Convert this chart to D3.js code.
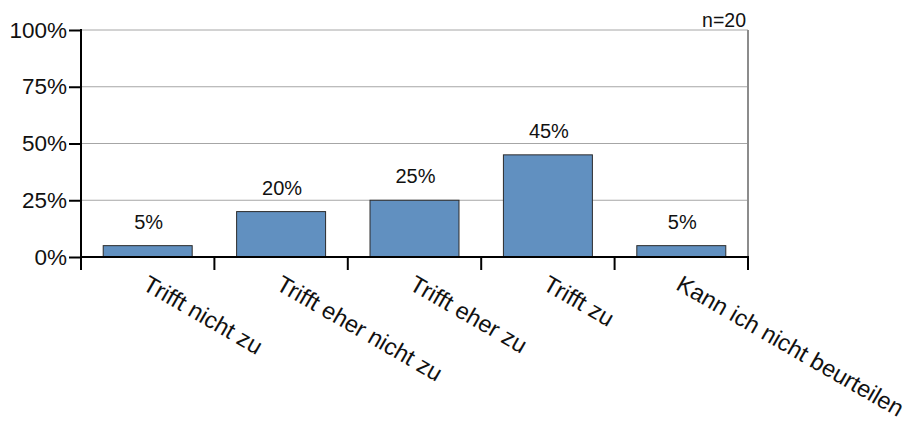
<!DOCTYPE html>
<html>
<head>
<meta charset="utf-8">
<script src="https://cdn.jsdelivr.net/npm/d3@7"></script>
<style>
  html, body { margin: 0; padding: 0; background: #fff; }
  svg { display: block; font-family: "Liberation Sans", Arial, sans-serif; }
</style>
</head>
<body>
<svg id="chart" width="910" height="423"></svg>
<script>
// Answer categories and their shares (percent of respondents)
const categories = ["Trifft nicht zu", "Trifft eher nicht zu", "Trifft eher zu", "Trifft zu", "Kann ich nicht beurteilen"];
const values = [5, 20, 25, 45, 5];
const yTicks = [0, 25, 50, 75, 100];
const sampleLabel = "n=20";

const svg = d3.select("#chart");
const plotLeft = 81, plotRight = 748, plotTop = 30, plotBottom = 257;

const x = d3.scaleBand().domain(categories).range([plotLeft, plotRight]).padding(0);
const y = d3.scaleLinear().domain([0, 100]).range([plotBottom, plotTop]);
const barW = x.bandwidth() * 0.667;

// light horizontal gridlines
svg.append("g").selectAll("line")
  .data(yTicks.filter(d => d > 0))
  .join("line")
  .attr("x1", plotLeft).attr("x2", plotRight)
  .attr("y1", d => y(d)).attr("y2", d => y(d))
  .attr("stroke", "#a6a6a6").attr("stroke-width", 1);

// right frame edge
svg.append("line")
  .attr("x1", plotRight).attr("x2", plotRight)
  .attr("y1", y(100)).attr("y2", y(0))
  .attr("stroke", "#8c8c8c").attr("stroke-width", 2);

// bars
svg.append("g").selectAll("rect")
  .data(values)
  .join("rect")
  .attr("x", (d, i) => x(categories[i]) + (x.bandwidth() - barW) / 2)
  .attr("y", d => y(d))
  .attr("width", barW)
  .attr("height", d => y(0) - y(d))
  .attr("fill", "#6190c0")
  .attr("stroke", "#2b2b2b")
  .attr("stroke-width", 1);

// value labels above bars
svg.append("g").selectAll("text")
  .data(values)
  .join("text")
  .attr("x", (d, i) => x(categories[i]) + x.bandwidth() / 2 + 1)
  .attr("y", d => y(d) - 17)
  .attr("text-anchor", "middle")
  .attr("font-size", 20)
  .attr("fill", "#111")
  .text(d => d + "%");

// y axis
const yAxis = d3.axisLeft(y).tickValues(yTicks).tickFormat(d => d + "%").tickSize(12).tickPadding(2);
const gy = svg.append("g").attr("transform", `translate(${plotLeft},0)`).call(yAxis);
gy.select(".domain").remove();
gy.selectAll(".tick line").attr("stroke", "#000").attr("stroke-width", 2);
gy.selectAll(".tick text").attr("font-size", 22.5).attr("fill", "#111").attr("font-family", "Liberation Sans, Arial, sans-serif");
svg.append("line")
  .attr("x1", plotLeft).attr("x2", plotLeft)
  .attr("y1", plotTop - 1).attr("y2", plotBottom + 13)
  .attr("stroke", "#000").attr("stroke-width", 2);

// x axis baseline with ticks at band boundaries
svg.append("line")
  .attr("x1", plotLeft).attr("x2", plotRight + 1)
  .attr("y1", plotBottom).attr("y2", plotBottom)
  .attr("stroke", "#000").attr("stroke-width", 2);
const bounds = categories.map(c => x(c)).concat([plotRight]);
svg.append("g").selectAll("line")
  .data(bounds.slice(1))
  .join("line")
  .attr("x1", d => d).attr("x2", d => d)
  .attr("y1", plotBottom).attr("y2", plotBottom + 13)
  .attr("stroke", "#000").attr("stroke-width", 2);

// rotated category labels
svg.append("g").selectAll("text")
  .data(categories)
  .join("text")
  .attr("transform", d => `translate(${x(d) + x.bandwidth() / 2 + 2},${plotBottom + 17}) rotate(30)`)
  .attr("dy", "0.72em")
  .attr("font-size", 23.5)
  .attr("fill", "#111")
  .text(d => d);

// sample size
svg.append("text")
  .attr("x", plotRight - 2)
  .attr("y", plotTop - 3)
  .attr("text-anchor", "end")
  .attr("font-size", 19.5)
  .attr("fill", "#111")
  .text(sampleLabel);
</script>
</body>
</html>
